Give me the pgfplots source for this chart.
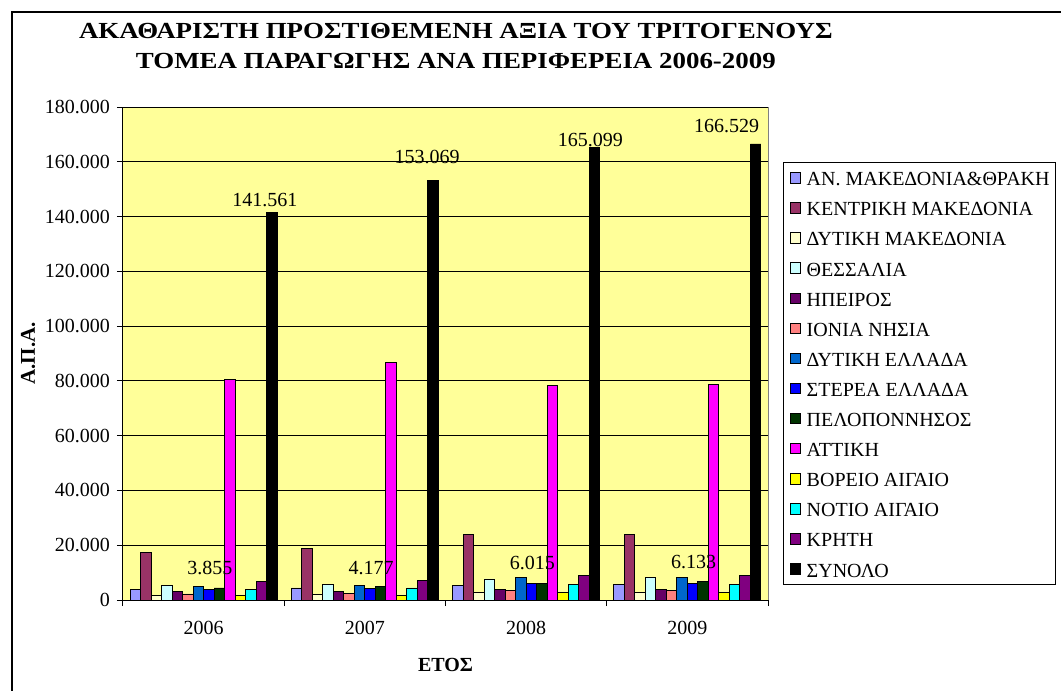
\documentclass[border=0pt]{standalone}
\usepackage{graphicx}
\usepackage{pgfplots}
\pgfplotsset{compat=1.18}
\usepackage{pgfplotstable}
\usepackage{fontspec}
\setmainfont{Liberation Serif}

\definecolor{c1}{HTML}{9999FF}
\definecolor{c2}{HTML}{993366}
\definecolor{c3}{HTML}{FFFFCC}
\definecolor{c4}{HTML}{CCFFFF}
\definecolor{c5}{HTML}{660066}
\definecolor{c6}{HTML}{FF8080}
\definecolor{c7}{HTML}{0066CC}
\definecolor{c8}{HTML}{0000FF}
\definecolor{c9}{HTML}{003300}
\definecolor{c10}{HTML}{FF00FF}
\definecolor{c11}{HTML}{FFFF00}
\definecolor{c12}{HTML}{00FFFF}
\definecolor{c13}{HTML}{800080}
\definecolor{c14}{HTML}{000000}
\definecolor{plotbg}{HTML}{FFFF99}

\pgfplotstableread{
x s1 s2 s3 s4 s5 s6 s7 s8 s9 s10 s11 s12 s13 s14 dx dy
0 3900 17300 1800 5400 3000 2200 4900 3855 4400 80500 1800 3900 6700 141561 -3.5 6
1 4400 18800 2000 5700 3000 2500 5200 4177 4900 86900 1800 4400 7300 153069 -3 12
2 5350 23900 2900 7700 4000 3400 8100 6015 6200 78500 2600 5800 9100 165099 -2 4
3 5700 23900 2900 8100 4000 3400 8100 6133 6800 78600 2600 5800 9100 166529 -14.5 9
}\datatable

\begin{document}
\begin{tikzpicture}
\useasboundingbox (0,0) rectangle (530.5pt,-345.5pt);
\draw[line width=0.75pt] (6pt,-345.5pt) -- (6pt,-6pt) -- (530.5pt,-6pt);
\begin{axis}[
  at={(61.5pt,-300pt)}, anchor=south west,
  scale only axis, width=322.5pt, height=246.5pt,
  ybar=0pt, bar width=5.25pt,
  xmin=-0.5, xmax=3.5, ymin=0, ymax=180000,
  xtick={-0.5,0.5,1.5,2.5,3.5}, xticklabels={},
  extra x ticks={0,1,2,3}, extra x tick labels={2006,2007,2008,2009},
  extra x tick style={major tick length=0pt, xticklabel style={yshift=-7pt}},
  ytick={0,20000,40000,60000,80000,100000,120000,140000,160000,180000},
  scaled y ticks=false,
  /pgf/number format/fixed, /pgf/number format/precision=0,
  /pgf/number format/1000 sep={.}, /pgf/number format/assume math mode=true,
  ymajorgrids, grid style={black, line width=0.5pt},
  axis background/.style={fill=plotbg},
  axis x line*=bottom, axis y line*=left,
  axis line style={black, line width=0.5pt},
  tick align=outside, major tick length=3pt,
  tick style={black, line width=0.5pt},
  tick label style={font=\fontsize{10}{12}\selectfont},
  title={\scalebox{1.17}[1]{ΑΚΑΘΑΡΙΣΤΗ ΠΡΟΣΤΙΘΕΜΕΝΗ ΑΞΙΑ ΤΟΥ ΤΡΙΤΟΓΕΝΟΥΣ}\\\scalebox{1.17}[1]{ΤΟΜΕΑ ΠΑΡΑΓΩΓΗΣ ΑΝΑ ΠΕΡΙΦΕΡΕΙΑ 2006-2009}},
  title style={at={(axis description cs:0.516,1.099)}, anchor=center, align=center,
    font=\bfseries\fontsize{11.5}{15}\selectfont},
  ylabel={Α.Π.Α.},
  ylabel style={at={(axis description cs:-0.147,0.5)}, anchor=center,
    font=\bfseries\fontsize{10.5}{12}\selectfont},
  xlabel={ΕΤΟΣ},
  xlabel style={at={(axis description cs:0.5,-0.132)}, anchor=center,
    font=\bfseries\fontsize{10}{12}\selectfont},
  legend style={at={(axis description cs:1.0233,0.888)}, anchor=north west,
    draw=black, line width=0.5pt, fill=white,
    font=\fontsize{10}{12}\selectfont,
    inner xsep=3pt, inner ysep=1.5pt, row sep=3.05pt, column sep=3pt,
    nodes={inner sep=0pt, text height=10pt, text depth=2pt},
    cells={anchor=west}},
  legend image code/.code={\draw[#1, draw=black, line width=0.4pt] (0pt,-2.6pt) rectangle (5.2pt,2.6pt);},
  after end axis/.code={\draw[gray, line width=0.5pt] (rel axis cs:1,0) -- (rel axis cs:1,1);},
  every axis plot/.append style={draw=black, line width=0.4pt},
]
\addplot[fill=c1] table[x=x,y=s1]{\datatable};
\addlegendentry{ΑΝ. ΜΑΚΕΔΟΝΙΑ\&ΘΡΑΚΗ}
\addplot[fill=c2] table[x=x,y=s2]{\datatable};
\addlegendentry{ΚΕΝΤΡΙΚΗ ΜΑΚΕΔΟΝΙΑ}
\addplot[fill=c3] table[x=x,y=s3]{\datatable};
\addlegendentry{ΔΥΤΙΚΗ ΜΑΚΕΔΟΝΙΑ}
\addplot[fill=c4] table[x=x,y=s4]{\datatable};
\addlegendentry{ΘΕΣΣΑΛΙΑ}
\addplot[fill=c5] table[x=x,y=s5]{\datatable};
\addlegendentry{ΗΠΕΙΡΟΣ}
\addplot[fill=c6] table[x=x,y=s6]{\datatable};
\addlegendentry{ΙΟΝΙΑ ΝΗΣΙΑ}
\addplot[fill=c7] table[x=x,y=s7]{\datatable};
\addlegendentry{ΔΥΤΙΚΗ ΕΛΛΑΔΑ}
\addplot[fill=c8, nodes near coords,
  every node near coord/.append style={anchor=center, yshift=10.5pt, xshift=0.5pt,
    text=black, font=\fontsize{10}{12}\selectfont}] table[x=x,y=s8]{\datatable};
\addlegendentry{ΣΤΕΡΕΑ ΕΛΛΑΔΑ}
\addplot[fill=c9] table[x=x,y=s9]{\datatable};
\addlegendentry{ΠΕΛΟΠΟΝΝΗΣΟΣ}
\addplot[fill=c10] table[x=x,y=s10]{\datatable};
\addlegendentry{ΑΤΤΙΚΗ}
\addplot[fill=c11] table[x=x,y=s11]{\datatable};
\addlegendentry{ΒΟΡΕΙΟ ΑΙΓΑΙΟ}
\addplot[fill=c12] table[x=x,y=s12]{\datatable};
\addlegendentry{ΝΟΤΙΟ ΑΙΓΑΙΟ}
\addplot[fill=c13] table[x=x,y=s13]{\datatable};
\addlegendentry{ΚΡΗΤΗ}
\addplot[fill=c14, nodes near coords,
  visualization depends on={\thisrow{dx}\as\labdx},
  visualization depends on={\thisrow{dy}\as\labdy},
  every node near coord/.append style={anchor=center, xshift=\labdx pt, yshift=\labdy pt,
    text=black, font=\fontsize{10}{12}\selectfont}] table[x=x,y=s14]{\datatable};
\addlegendentry{ΣΥΝΟΛΟ}
\end{axis}
\end{tikzpicture}
\end{document}
